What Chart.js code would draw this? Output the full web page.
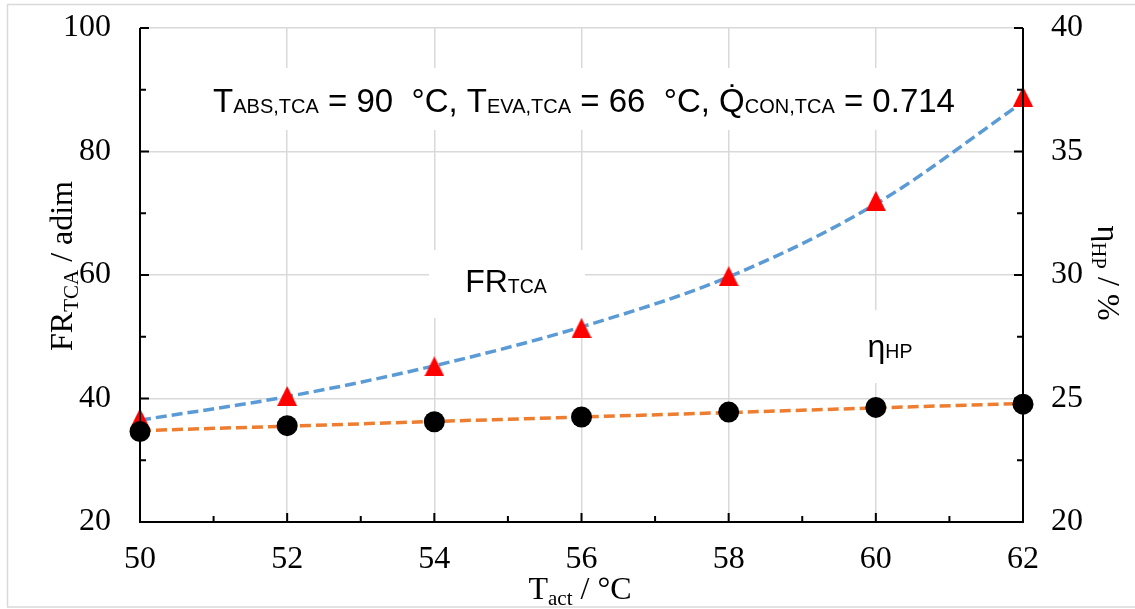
<!DOCTYPE html>
<html><head><meta charset="utf-8">
<script src="https://cdn.jsdelivr.net/npm/chart.js@4"></script>
<style>html,body{margin:0;padding:0;background:#fff;}#wrap{width:1135px;height:609px;}</style>
</head><body><div id="wrap"><canvas id="c" width="1135" height="609"></canvas></div>
<script>
// ---- data ----
const temperatures = [50, 52, 54, 56, 58, 60, 62];
const frTca = [36.8, 40.4, 45.2, 51.4, 59.8, 72.0, 88.9];
const etaHp = [23.66, 23.9, 24.06, 24.25, 24.45, 24.64, 24.77];
const frTrend = [36.5, 40.3, 45.3, 51.6, 59.7, 71.5, 88.0];
const etaTrend = [23.7, 23.88, 24.07, 24.25, 24.43, 24.62, 24.8];
const xTicks = [50, 52, 54, 56, 58, 60, 62];
const leftTicks = [20, 40, 60, 80, 100];
const rightTicks = [20, 25, 30, 35, 40];
const leftMinor = [30, 50, 70, 90];
const rightMinor = [22.5, 27.5, 32.5, 37.5];
const xMinor = [51, 53, 55, 57, 59, 61];

const SERIF = '"Liberation Serif", "Times New Roman", serif';
const SANS = '"Liberation Sans", Arial, sans-serif';

const tri = document.createElement('canvas');
tri.width = 20; tri.height = 20;
(function(){const t = tri.getContext('2d'); t.fillStyle = '#ff0000'; t.beginPath(); t.moveTo(10,0); t.lineTo(20,20); t.lineTo(0,20); t.closePath(); t.fill();})();

function pts(ys){ return temperatures.map((x,i)=>({x:x, y:ys[i]})); }

function drawRuns(ctx, runs, cx, by, mainFont, subFont, subDy) {
  let w = 0;
  runs.forEach(r => { ctx.font = r[1] ? subFont : mainFont; r.w = ctx.measureText(r[0]).width; w += r.w; });
  let x = cx - w / 2;
  ctx.textAlign = 'left'; ctx.textBaseline = 'alphabetic'; ctx.fillStyle = '#000';
  runs.forEach(r => { ctx.font = r[1] ? subFont : mainFont; ctx.fillText(r[0], x, by + (r[1] ? subDy : 0)); x += r.w; });
}

const decor = {
  id: 'decor',
  beforeDraw(chart) {
    const ctx = chart.ctx;
    ctx.save(); ctx.fillStyle = '#fff'; ctx.fillRect(0,0,chart.width,chart.height);
    ctx.strokeStyle = '#d9d9d9'; ctx.lineWidth = 1.5;
    ctx.beginPath(); ctx.moveTo(1135, 4.5); ctx.lineTo(7.5, 4.5); ctx.lineTo(7.5, 607); ctx.lineTo(1135, 607); ctx.stroke();
    ctx.restore();
  },
  beforeDatasetsDraw(chart) {
    const ctx = chart.ctx;
    ctx.save();
    ctx.fillStyle = '#fff';
    ctx.fillRect(190, 68, 790, 62);
    ctx.fillRect(429, 250, 156, 68);
    ctx.fillRect(840, 310, 85, 73);
    const M = '32px ' + SANS, S = '19.5px ' + SANS;
    drawRuns(ctx, [['T',0],['ABS,TCA',1],[' = 90  °C, T',0],['EVA,TCA',1],[' = 66  °C, Q\u0307',0],['CON,TCA',1],[' = 0.714',0]], 584, 112, '33px ' + SANS, '20px ' + SANS, 1);
    drawRuns(ctx, [['FR',0],['TCA',1]], 506, 292, M, S, 1);
    drawRuns(ctx, [['\u03b7',0],['HP',1]], 890, 357, M, S, 1);
    ctx.restore();
  },
  afterDraw(chart) {
    const ctx = chart.ctx, a = chart.chartArea;
    const x = chart.scales.x, y = chart.scales.y, y2 = chart.scales.y2;
    ctx.save();
    ctx.strokeStyle = '#000'; ctx.lineWidth = 2;
    ctx.beginPath();
    ctx.moveTo(a.left, a.top); ctx.lineTo(a.left, a.bottom); ctx.lineTo(a.right, a.bottom); ctx.lineTo(a.right, a.top);
    ctx.stroke();
    ctx.beginPath();
    leftTicks.forEach(v => { const p = y.getPixelForValue(v); ctx.moveTo(a.left, p); ctx.lineTo(a.left + 9, p); });
    leftMinor.forEach(v => { const p = y.getPixelForValue(v); ctx.moveTo(a.left, p); ctx.lineTo(a.left + 6, p); });
    rightTicks.forEach(v => { const p = y2.getPixelForValue(v); ctx.moveTo(a.right, p); ctx.lineTo(a.right - 9, p); });
    rightMinor.forEach(v => { const p = y2.getPixelForValue(v); ctx.moveTo(a.right, p); ctx.lineTo(a.right - 6, p); });
    xTicks.forEach(v => { const p = x.getPixelForValue(v); ctx.moveTo(p, a.bottom); ctx.lineTo(p, a.bottom - 9); });
    xMinor.forEach(v => { const p = x.getPixelForValue(v); ctx.moveTo(p, a.bottom); ctx.lineTo(p, a.bottom - 6); });
    ctx.stroke();
    const TM = '32px ' + SERIF, TS = '21px ' + SERIF;
    drawRuns(ctx, [['T',0],['act',1],[' / °C',0]], 580, 599, TM, TS, 6);
    ctx.save(); ctx.translate(72, 266); ctx.rotate(-Math.PI/2);
    drawRuns(ctx, [['FR',0],['TCA',1],[' / adim',0]], 0, 0, TM, TS, 6);
    ctx.restore();
    ctx.save(); ctx.translate(1098, 273); ctx.rotate(Math.PI/2);
    drawRuns(ctx, [['\u03b7',0],['HP',1],[' / %',0]], 0, 0, TM, TS, 6);
    ctx.restore();
    ctx.restore();
  }
};

const tickFont = {family: SERIF, size: 32};
new Chart(document.getElementById('c'), {
  type: 'line',
  data: {
    datasets: [
      {label: 'eta', data: pts(etaHp), yAxisID: 'y2', showLine: false, pointStyle: 'circle', pointRadius: 10.5, pointBackgroundColor: '#000', pointBorderWidth: 0, clip: false, order: 0},
      {label: 'FR', data: pts(frTca), yAxisID: 'y', showLine: false, pointStyle: tri, pointRadius: 10, clip: false, order: 1},
      {label: 'etaTrend', data: pts(etaTrend), yAxisID: 'y2', borderColor: '#ed7d31', borderWidth: 3.5, borderDash: [11,5], pointRadius: 0, clip: false, order: 2},
      {label: 'frTrend', data: pts(frTrend), yAxisID: 'y', borderColor: '#5b9bd5', borderWidth: 3.5, borderDash: [11,5], pointRadius: 0, cubicInterpolationMode: 'monotone', clip: false, order: 3}
    ]
  },
  options: {
    responsive: false, animation: false, devicePixelRatio: 1,
    layout: {padding: {top: 28, left: 0, right: 0, bottom: 0}},
    plugins: {legend: {display: false}, tooltip: {enabled: false}},
    scales: {
      x: {type: 'linear', min: 50, max: 62,
        afterBuildTicks: s => { s.ticks = xTicks.map(v => ({value: v})); },
        afterFit: s => { s.height = 87; s.paddingLeft = 0; s.paddingRight = 0; },
        grid: {color: '#d9d9d9', lineWidth: 1.5, drawTicks: false}, border: {display: false},
        ticks: {font: tickFont, color: '#000', padding: 18, maxRotation: 0, autoSkip: false}},
      y: {type: 'linear', position: 'left', min: 20, max: 100,
        afterBuildTicks: s => { s.ticks = leftTicks.map(v => ({value: v})); },
        afterFit: s => { s.width = 140; s.paddingTop = 0; s.paddingBottom = 0; },
        grid: {color: '#d9d9d9', lineWidth: 1.5, drawTicks: false}, border: {display: false},
        ticks: {font: tickFont, color: '#000', padding: 29}},
      y2: {type: 'linear', position: 'right', min: 20, max: 40,
        afterBuildTicks: s => { s.ticks = rightTicks.map(v => ({value: v})); },
        afterFit: s => { s.width = 112; s.paddingTop = 0; s.paddingBottom = 0; },
        grid: {display: false, drawTicks: false}, border: {display: false},
        ticks: {font: tickFont, color: '#000', padding: 28}}
    }
  },
  plugins: [decor]
});
</script></body></html>
